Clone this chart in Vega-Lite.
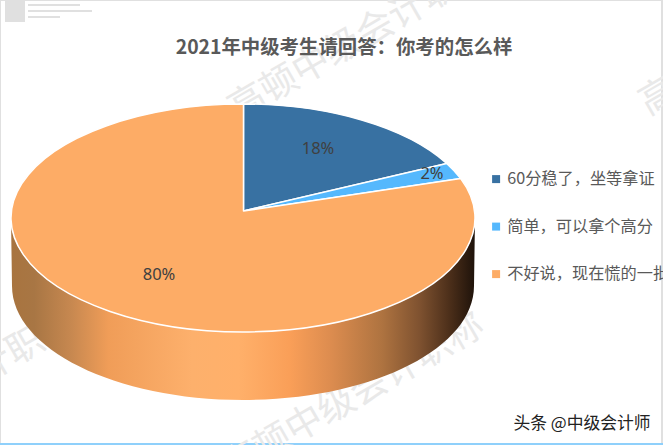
{
  "$schema": "https://vega.github.io/schema/vega-lite/v6.json",
  "width": 486,
  "height": 316,
  "autosize": "none",
  "padding": {"left": 0, "right": 177, "top": 60, "bottom": 69},
  "background": "white",
  "view": {"stroke": null},
  "datasets": {
    "answers": [
      {"answer": "60分稳了，坐等拿证", "share": 0.18},
      {"answer": "简单，可以拿个高分", "share": 0.02},
      {"answer": "不好说，现在慌的一批", "share": 0.80}
    ],
    "watermark": [{"note": "高顿中级会计职称"}],
    "source": [{"note": "头条 @中级会计师"}],
    "heading": [{"note": "2021年中级考生请回答：你考的怎么样"}]
  },
  "layer": [
    {
      "data": {"name": "answers"},
      "mark": {"type": "point", "filled": true, "size": 1, "opacity": 1},
      "encoding": {
        "color": {
          "field": "answer",
          "type": "nominal",
          "scale": {
            "domain": ["60分稳了，坐等拿证", "简单，可以拿个高分", "不好说，现在慌的一批"],
            "range": ["#3871a2", "#55b8fd", "#fdac66"]
          },
          "legend": {
            "title": null,
            "orient": "none",
            "legendX": 488,
            "legendY": 111,
            "symbolType": "square",
            "symbolSize": 64,
            "symbolOpacity": 1,
            "symbolStrokeWidth": 0,
            "labelFont": "Noto Sans CJK SC",
            "labelFontSize": 16.2,
            "labelColor": "#595959",
            "labelLimit": 300,
            "labelOffset": 3,
            "rowPadding": 30.5
          }
        }
      }
    },
    {
      "data": {"name": "source"},
      "mark": {"type": "point", "filled": true, "opacity": 1, "size": 4, "fill": "#e0e0e0",
        "shape": "M-238,-218H-218V-196H-238ZM-215,-214H-163V-212H-215ZM-215,-208H-151V-206H-215ZM-215,-202H-183V-200H-215ZM-243,-218H420V-217H-243ZM-243,-218H-242V227H-243ZM418,-218H420V227H418Z"}
    },
    {
      "data": {"name": "source"},
      "mark": {"type": "point", "filled": true, "opacity": 1, "size": 4, "fill": "#8fd0fb",
        "shape": "M-243,225H420V227H-243Z"}
    },
    {
      "data": {"name": "watermark"},
      "mark": {"type": "text", "font": "Noto Sans CJK SC", "fontSize": 37, "angle": -30, "color": "#e9e9e9", "align": "center", "baseline": "middle", "dx": 191, "dy": -97},
      "encoding": {"text": {"field": "note"}}
    },
    {
      "data": {"name": "watermark"},
      "mark": {"type": "text", "font": "Noto Sans CJK SC", "fontSize": 37, "angle": -30, "color": "#e9e9e9", "align": "center", "baseline": "middle", "dx": -345, "dy": 3},
      "encoding": {"text": {"field": "note"}}
    },
    {
      "data": {"name": "watermark"},
      "mark": {"type": "text", "font": "Noto Sans CJK SC", "fontSize": 37, "angle": -30, "color": "#e9e9e9", "align": "center", "baseline": "middle", "dx": 6, "dy": 210},
      "encoding": {"text": {"field": "note"}}
    },
    {
      "data": {"name": "watermark"},
      "mark": {"type": "text", "font": "Noto Sans CJK SC", "fontSize": 37, "angle": -30, "color": "#e9e9e9", "align": "center", "baseline": "middle", "dx": 550, "dy": 103},
      "encoding": {"text": {"field": "note"}}
    },
    {
      "data": {"name": "heading"},
      "mark": {"type": "text", "font": "Noto Sans CJK SC", "fontSize": 19.4, "fontWeight": "bold", "color": "#595959", "align": "center", "baseline": "middle", "dx": 101, "dy": -170},
      "encoding": {"text": {"field": "note"}}
    },
    {
      "data": {"name": "answers"},
      "transform": [{"filter": "datum.share == 0.80"}],
      "mark": {
        "type": "point",
        "filled": true,
        "opacity": 1,
        "size": 4,
        "shape": "M-232,0A232,114 0 0 0 232,0L231,68A231,114 0 0 1 -231,68Z",
        "fill": {
          "gradient": "linear",
          "x1": 0, "y1": 0, "x2": 1, "y2": 0,
          "stops": [
            {"offset": 0, "color": "#a8743f"},
            {"offset": 0.05, "color": "#a87644"},
            {"offset": 0.13, "color": "#c78850"},
            {"offset": 0.21, "color": "#f09d58"},
            {"offset": 0.39, "color": "#fdb06c"},
            {"offset": 0.49, "color": "#ffb06a"},
            {"offset": 0.6, "color": "#fa9f58"},
            {"offset": 0.69, "color": "#dc8c4f"},
            {"offset": 0.8, "color": "#ae7340"},
            {"offset": 0.88, "color": "#7f5230"},
            {"offset": 0.945, "color": "#4c2f1a"},
            {"offset": 1, "color": "#1e120a"}
          ]
        }
      }
    },
    {
      "data": {"name": "answers"},
      "transform": [{"filter": "datum.share == 0.18"}],
      "mark": {"type": "point", "filled": true, "opacity": 1, "size": 4, "stroke": "white", "strokeWidth": 1.5, "strokeJoin": "round", "fill": "#3871a2",
        "shape": "M0.5,-7L0.5,-114A232,114 0 0 1 203.7,-54.6Z"}
    },
    {
      "data": {"name": "answers"},
      "transform": [{"filter": "datum.share == 0.02"}],
      "mark": {"type": "point", "filled": true, "opacity": 1, "size": 4, "stroke": "white", "strokeWidth": 1.5, "strokeJoin": "round", "fill": "#55b8fd",
        "shape": "M0.5,-7L203.7,-54.6A232,114 0 0 1 217.7,-39.4Z"}
    },
    {
      "data": {"name": "answers"},
      "transform": [{"filter": "datum.share == 0.80"}],
      "mark": {"type": "point", "filled": true, "opacity": 1, "size": 4, "stroke": "white", "strokeWidth": 1.5, "strokeJoin": "round", "fill": "#fdac66",
        "shape": "M0.5,-7L217.7,-39.4A232,114 0 1 1 0.5,-114Z"}
    },
    {
      "data": {"name": "answers"},
      "transform": [{"filter": "datum.share == 0.18"}],
      "mark": {"type": "text", "font": "Noto Sans", "fontSize": 16.5, "color": "#404040", "dx": 75, "dy": -69},
      "encoding": {"text": {"field": "share", "type": "quantitative", "format": ".0%"}}
    },
    {
      "data": {"name": "answers"},
      "transform": [{"filter": "datum.share == 0.02"}],
      "mark": {"type": "text", "font": "Noto Sans", "fontSize": 16.5, "color": "#404040", "dx": 189, "dy": -44},
      "encoding": {"text": {"field": "share", "type": "quantitative", "format": ".0%"}}
    },
    {
      "data": {"name": "answers"},
      "transform": [{"filter": "datum.share == 0.80"}],
      "mark": {"type": "text", "font": "Noto Sans", "fontSize": 16.5, "color": "#404040", "dx": -84, "dy": 57},
      "encoding": {"text": {"field": "share", "type": "quantitative", "format": ".0%"}}
    },
    {
      "data": {"name": "source"},
      "mark": {"type": "text", "font": "Noto Sans CJK SC", "fontSize": 16.8, "color": "#222222", "dx": 339, "dy": 206},
      "encoding": {"text": {"field": "note"}}
    }
  ]
}
